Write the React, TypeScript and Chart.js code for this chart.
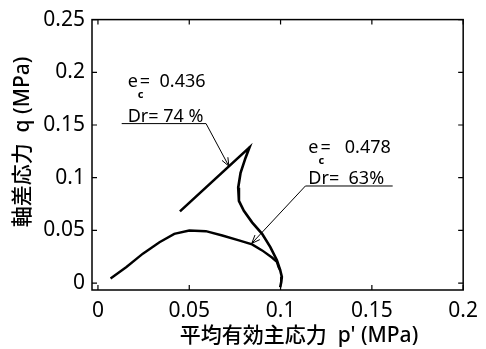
import { useEffect, useRef } from "react";
import { Chart, registerables } from "chart.js";
Chart.register(...registerables);

// Tick labels
const xTickValues = [0, 0.05, 0.1, 0.15, 0.2];
const yTickValues = [0, 0.05, 0.1, 0.15, 0.2, 0.25];

// Dr = 74 % (e_c = 0.436): effective stress path p' (MPa), q (MPa)
const dr74P = [0.0449, 0.083, 0.0808, 0.0781, 0.0768, 0.0772, 0.0799, 0.0844, 0.0899, 0.0944, 0.098, 0.0998, 0.1007, 0.1004, 0.0998];
const dr74Q = [0.068, 0.1288, 0.1187, 0.1046, 0.0905, 0.078, 0.0686, 0.0576, 0.0467, 0.0341, 0.0216, 0.0122, 0.0059, 0.0012, -0.004];

// Dr = 63 % (e_c = 0.478)
const dr63P = [0.0069, 0.0156, 0.0246, 0.0337, 0.0418, 0.05, 0.0591, 0.0681, 0.0772, 0.0844, 0.0899, 0.0953, 0.098, 0.0989, 0.0998];
const dr63Q = [0.0044, 0.0153, 0.0279, 0.0388, 0.0467, 0.0498, 0.0492, 0.0451, 0.0404, 0.0367, 0.031, 0.0242, 0.02, 0.0153, 0.0122];

// Annotation labels (anchor in data units: p', q)
const annoEc = ["0.436", "0.478"];
const annoDr = ["74 %", " 63%"];
const annoTextP = [0.0163, 0.1152];
const annoEcQ = [0.1861, 0.1231];
const annoDrQ = [0.1532, 0.094];
const annoLineQ = [0.1513, 0.0921];
const annoLineP0 = [0.013, 0.1136];
const annoLineP1 = [0.0592, 0.1614];
const annoTipP = [0.0717, 0.0842];
const annoTipQ = [0.1109, 0.0376];

const xTitle = "平均有効主応力  p' (MPa)";
const yTitle = "軸差応力  q (MPa)";

const FONT = "'Noto Sans', 'Noto Sans CJK JP', sans-serif";

const framePlugin = {
  id: "framePlugin",
  afterDraw(chart: any) {
    const ctx = chart.ctx as CanvasRenderingContext2D;
    const { left, right, top, bottom } = chart.chartArea;
    const xs = chart.scales.x;
    const ys = chart.scales.y;
    ctx.save();
    ctx.strokeStyle = "#000";
    ctx.lineWidth = 1.5;
    ctx.strokeRect(left, top, right - left, bottom - top);
    ctx.lineWidth = 1.2;
    const tl = 5;
    ctx.beginPath();
    xTickValues.forEach((v) => {
      const px = xs.getPixelForValue(v);
      ctx.moveTo(px, bottom);
      ctx.lineTo(px, bottom - tl);
      ctx.moveTo(px, top);
      ctx.lineTo(px, top + tl);
    });
    yTickValues.forEach((v) => {
      const py = ys.getPixelForValue(v);
      ctx.moveTo(left, py);
      ctx.lineTo(left + tl, py);
      ctx.moveTo(right, py);
      ctx.lineTo(right - tl, py);
    });
    ctx.stroke();

    // annotations
    ctx.fillStyle = "#000";
    ctx.textBaseline = "alphabetic";
    ctx.textAlign = "left";
    for (let i = 0; i < annoEc.length; i++) {
      const tx = xs.getPixelForValue(annoTextP[i]);
      const ey = ys.getPixelForValue(annoEcQ[i]);
      const dy = ys.getPixelForValue(annoDrQ[i]);
      ctx.font = `18px ${FONT}`;
      ctx.fillText("e", tx, ey);
      const ew = ctx.measureText("e").width;
      ctx.font = `bold 11px ${FONT}`;
      ctx.fillText("c", tx + ew, ey + 11);
      ctx.font = `18px ${FONT}`;
      ctx.fillText(i === 0 ? "=  " + annoEc[i] : "=   " + annoEc[i], tx + ew + 2, ey);
      ctx.fillText("Dr= " + annoDr[i], tx, dy);

      const ly = ys.getPixelForValue(annoLineQ[i]);
      const lx0 = xs.getPixelForValue(annoLineP0[i]);
      const lx1 = xs.getPixelForValue(annoLineP1[i]);
      const ax = xs.getPixelForValue(annoTipP[i]);
      const ay = ys.getPixelForValue(annoTipQ[i]);
      const sx = i === 0 ? lx1 : lx0;
      ctx.lineWidth = 1;
      ctx.beginPath();
      ctx.moveTo(lx0, ly);
      ctx.lineTo(lx1, ly);
      ctx.moveTo(sx, ly);
      ctx.lineTo(ax, ay);
      const ang = Math.atan2(ay - ly, ax - sx);
      const hl = 9;
      const ha = 0.38;
      ctx.moveTo(ax, ay);
      ctx.lineTo(ax - hl * Math.cos(ang - ha), ay - hl * Math.sin(ang - ha));
      ctx.moveTo(ax, ay);
      ctx.lineTo(ax - hl * Math.cos(ang + ha), ay - hl * Math.sin(ang + ha));
      ctx.stroke();
    }

    // axis titles
    ctx.font = `500 21px ${FONT}`;
    ctx.textAlign = "center";
    ctx.textBaseline = "middle";
    ctx.fillText(xTitle, 299, 336);
    ctx.save();
    ctx.translate(23, 142);
    ctx.rotate(-Math.PI / 2);
    ctx.fillText(yTitle, 0, 0);
    ctx.restore();
    ctx.restore();
  },
};

export default function App() {
  const ref = useRef<HTMLCanvasElement>(null);
  useEffect(() => {
    if (!ref.current) return;
    const chart = new Chart(ref.current, {
      type: "scatter",
      data: {
        datasets: [
          {
            label: "Dr= 74 %",
            data: dr74P.map((p, i) => ({ x: p, y: dr74Q[i] })),
            showLine: true,
            borderColor: "#000",
            borderWidth: 2.6,
            pointRadius: 0,
            tension: 0,
          },
          {
            label: "Dr= 63%",
            data: dr63P.map((p, i) => ({ x: p, y: dr63Q[i] })),
            showLine: true,
            borderColor: "#000",
            borderWidth: 2.4,
            pointRadius: 0,
            tension: 0,
          },
        ],
      },
      options: {
        responsive: false,
        animation: false,
        layout: { padding: { top: 17, right: 20, left: 0, bottom: 0 } },
        plugins: { legend: { display: false }, tooltip: { enabled: false } },
        scales: {
          x: {
            type: "linear",
            min: -0.00326,
            max: 0.2,
            afterBuildTicks: (s: any) => {
              s.ticks = xTickValues.map((v) => ({ value: v }));
            },
            afterFit: (s: any) => {
              s.height = 59;
            },
            grid: { display: false, drawTicks: false },
            border: { display: false },
            ticks: {
              autoSkip: false,
              maxRotation: 0,
              padding: 8,
              color: "#000",
              font: { family: FONT, size: 21 },
              callback: (v: any) => String(v),
            },
          },
          y: {
            type: "linear",
            min: -0.0066,
            max: 0.25,
            afterBuildTicks: (s: any) => {
              s.ticks = yTickValues.map((v) => ({ value: v }));
            },
            afterFit: (s: any) => {
              s.width = 92;
            },
            grid: { display: false, drawTicks: false },
            border: { display: false },
            ticks: {
              autoSkip: false,
              padding: 7,
              color: "#000",
              font: { family: FONT, size: 21 },
              callback: (v: any) => String(v),
            },
          },
        },
      },
      plugins: [framePlugin],
    });
    return () => chart.destroy();
  }, []);
  return (
    <div style={{ position: "fixed", left: 0, top: 0, width: 486, height: 349, background: "#fff" }}>
      <canvas ref={ref} width={486} height={349} />
    </div>
  );
}
